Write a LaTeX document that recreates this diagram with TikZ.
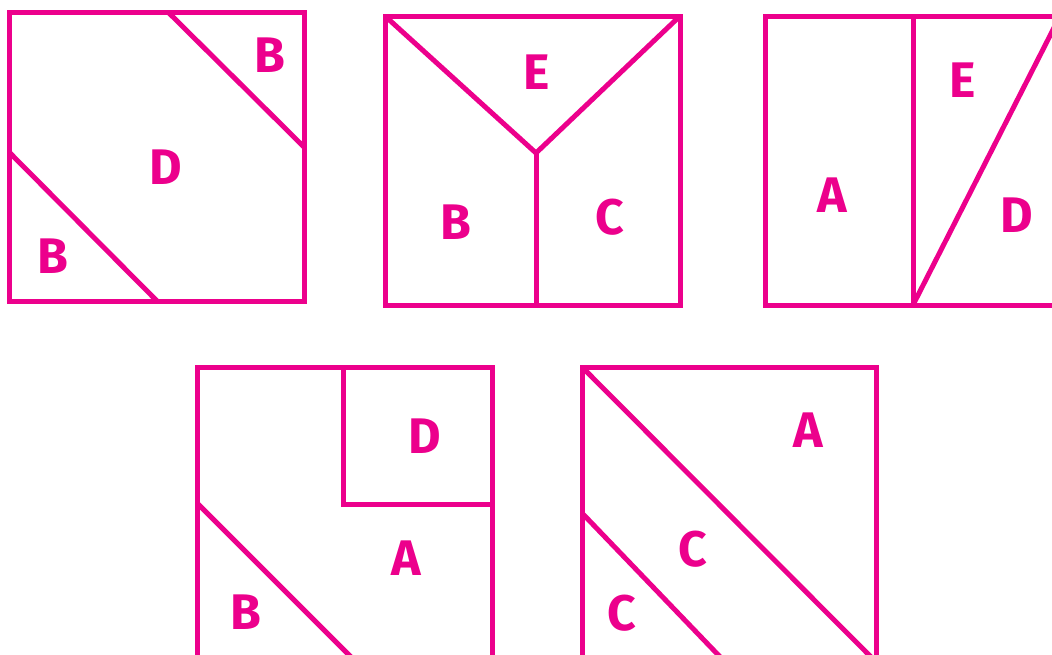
\documentclass[tikz,border=0pt]{standalone}
\usepackage{fontspec}
\setmainfont{Fira Sans}
\definecolor{puzmag}{RGB}{236,0,140}

\begin{document}
\begin{tikzpicture}[x=1pt, y=-1pt, line width=5pt, line join=miter,
  piece/.style={draw=puzmag},
  lbl/.style={text=puzmag, font=\fontsize{50}{60}\selectfont\bfseries, inner sep=0pt}]
  \useasboundingbox (0,0) rectangle (1052,654);
  \clip (0,0) rectangle (1052,654);

  % first square: D with two B corners
  \coordinate (A1) at (9,12);
  \coordinate (C1) at (304,301);
  \draw[piece] (A1) rectangle (C1);
  \draw[piece] (168,12) -- (304,147);
  \draw[piece] (9,152) -- (157,301);
  \node[lbl] (b1a) at (270,55) {B};
  \node[lbl] (d1) at (166,167) {D};
  \node[lbl] (b1b) at (53,256) {B};

  % second square: E on top, B and C below
  \coordinate (A2) at (385,16);
  \coordinate (C2) at (680,305);
  \coordinate (M2) at (536,153);
  \draw[piece] (A2) rectangle (C2);
  \draw[piece] (A2) -- (M2) -- (680,16);
  \draw[piece] (M2) -- (536,305);
  \node[lbl] (e2) at (537,72) {E};
  \node[lbl] (b2) at (456,222) {B};
  \node[lbl] (c2) at (610,217) {C};

  % third square (cut on the right)
  \coordinate (A3) at (765,16);
  \coordinate (C3) at (1060,305);
  \coordinate (M3) at (913,305);
  \draw[piece] (A3) rectangle (C3);
  \draw[piece] (913,16) -- (M3);
  \draw[piece] (M3) -- (1060,16);
  \node[lbl] (a3) at (832,195) {A};
  \node[lbl] (e3) at (963,80) {E};
  \node[lbl] (d3) at (1017,215) {D};

  % fourth square (cut at the bottom)
  \coordinate (A4) at (197,367);
  \coordinate (C4) at (492,662);
  \draw[piece] (A4) rectangle (C4);
  \draw[piece] (343,367) -- (343,504) -- (492,504);
  \draw[piece] (197,503) -- (356,662);
  \node[lbl] (d4) at (425,436) {D};
  \node[lbl] (a4) at (406,558) {A};
  \node[lbl] (b4) at (246,612) {B};

  % fifth square (cut at the bottom)
  \coordinate (A5) at (582,367);
  \coordinate (C5) at (876,662);
  \draw[piece] (A5) rectangle (C5);
  \draw[piece] (A5) -- (C5);
  \draw[piece] (582,513) -- (725,662);
  \node[lbl] (a5) at (808,430) {A};
  \node[lbl] (c5a) at (693,549) {C};
  \node[lbl] (c5b) at (622,613) {C};
\end{tikzpicture}
\end{document}
